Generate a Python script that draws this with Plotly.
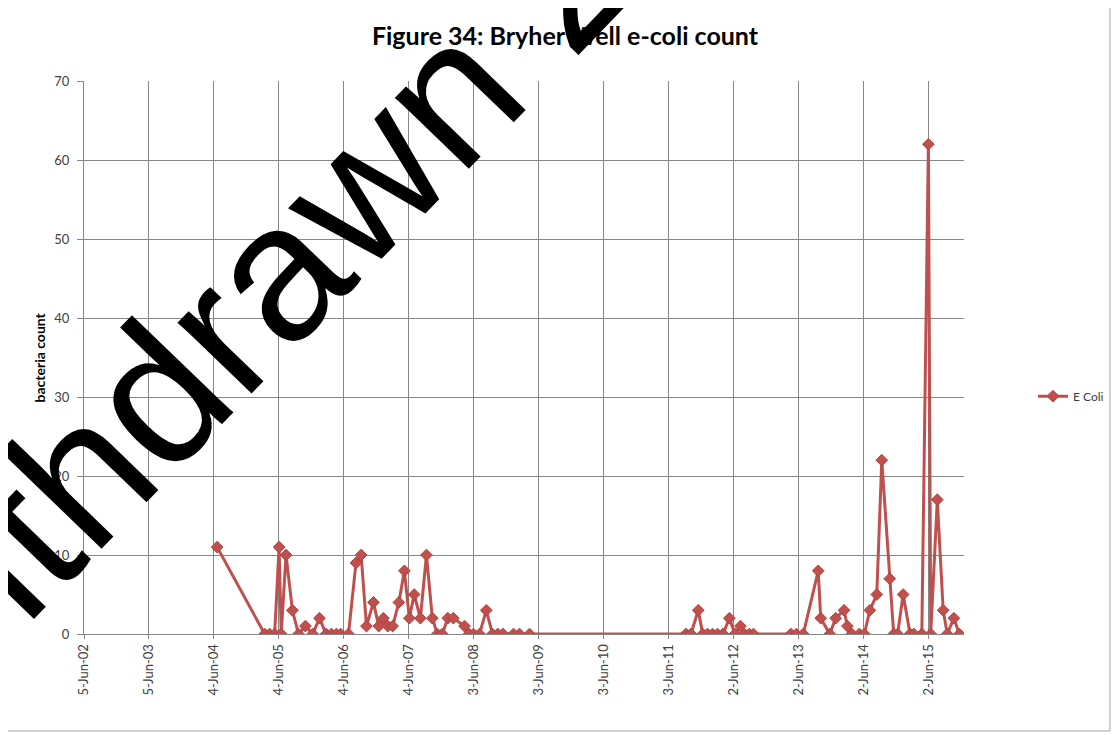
import plotly.graph_objects as go

# ---- data ----
sample_dates = [
    "2004-06-22", "2005-03-16", "2005-04-13", "2005-05-11", "2005-06-05", "2005-06-17",
    "2005-07-14", "2005-08-19", "2005-09-22", "2005-10-31", "2005-12-11", "2006-01-18",
    "2006-02-24", "2006-03-26", "2006-04-23", "2006-05-17", "2006-06-30", "2006-08-11",
    "2006-09-09", "2006-10-09", "2006-11-17", "2006-12-17", "2007-01-12", "2007-02-06",
    "2007-03-05", "2007-04-09", "2007-05-10", "2007-06-07", "2007-07-04", "2007-08-08",
    "2007-09-11", "2007-10-14", "2007-11-11", "2007-12-09", "2008-01-09", "2008-02-09",
    "2008-04-12", "2008-05-07", "2008-06-01", "2008-07-05", "2008-08-12", "2008-09-16",
    "2008-10-16", "2008-11-14", "2009-01-12", "2009-02-15", "2009-04-12",
    "2011-09-08", "2011-10-06", "2011-11-16", "2011-12-11", "2012-01-07", "2012-02-04",
    "2012-03-03", "2012-04-03", "2012-05-09", "2012-06-09", "2012-07-10", "2012-08-01",
    "2012-08-29", "2012-09-21",
    "2013-04-19", "2013-05-20", "2013-06-28", "2013-09-20", "2013-10-04", "2013-11-24",
    "2013-12-27", "2014-02-12", "2014-03-03", "2014-03-28", "2014-05-09", "2014-06-06",
    "2014-07-07", "2014-08-15", "2014-09-12", "2014-10-27", "2014-11-18", "2014-12-10",
    "2015-01-10", "2015-02-18", "2015-03-11", "2015-04-25", "2015-06-01", "2015-06-14",
    "2015-07-21", "2015-08-23", "2015-09-15", "2015-10-22", "2015-11-22",
]
e_coli = [
    11, 0, 0, 0, 11, 0,
    10, 3, 0, 1, 0, 2,
    0, 0, 0, 0, 0, 9,
    10, 1, 4, 1, 2, 1,
    1, 4, 8, 2, 5, 2,
    10, 2, 0, 0, 2, 2,
    1, 0, 0, 0, 3, 0,
    0, 0, 0, 0, 0,
    0, 0, 3, 0, 0, 0,
    0, 0, 2, 0, 1, 0,
    0, 0,
    0, 0, 0, 8, 2, 0,
    2, 3, 1, 0, 0, 0,
    3, 5, 22, 7, 0, 0,
    5, 0, 0, 0, 62, 0,
    17, 3, 0, 2, 0,
]

tick_dates = [
    "2002-06-05", "2003-06-05", "2004-06-04", "2005-06-04", "2006-06-04", "2007-06-04",
    "2008-06-03", "2009-06-03", "2010-06-03", "2011-06-03", "2012-06-02", "2013-06-02",
    "2014-06-02", "2015-06-02",
]
tick_labels = [
    "5-Jun-02", "5-Jun-03", "4-Jun-04", "4-Jun-05", "4-Jun-06", "4-Jun-07",
    "3-Jun-08", "3-Jun-09", "3-Jun-10", "3-Jun-11", "2-Jun-12", "2-Jun-13",
    "2-Jun-14", "2-Jun-15",
]
y_ticks = [0, 10, 20, 30, 40, 50, 60, 70]

title_text = "Figure 34: Bryher Well e-coli count"
series_name = "E Coli"
y_title = "bacteria count"
watermark = "Withdrawn 2"

RED = "#C0504D"
GRID = "#868686"
FONT = "Lato, Open Sans, sans-serif"
TICKFONT = dict(family=FONT, size=13, color="#404040")

W, H = 1112, 727
L, R, T, B = 76, 156, 73, 101
PW, PH = W - L - R, H - T - B

fig = go.Figure()
fig.add_trace(go.Scatter(
    x=sample_dates, y=e_coli, name=series_name, mode="lines+markers",
    line=dict(color=RED, width=3),
    marker=dict(symbol="diamond", size=9, color=RED, line=dict(color="#B0413E", width=1)),
))

fig.update_layout(
    width=W, height=H,
    margin=dict(l=L, r=R, t=T, b=B, autoexpand=False),
    paper_bgcolor="white", plot_bgcolor="white",
    showlegend=True,
    legend=dict(x=(1025 - L) / PW, y=0.43, xanchor="left", yanchor="middle",
                font=dict(family=FONT, size=12, color="#404040"),
                bgcolor="rgba(0,0,0,0)", itemwidth=30),
    title=dict(text="<b>" + title_text + "</b>", x=557 / W, xref="container", xanchor="center",
               y=1 - 28 / H, yref="container", yanchor="middle",
               font=dict(family=FONT, size=25, color="#000000")),
)

fig.update_xaxes(
    type="date", range=["2002-06-05", "2015-12-18"],
    tickmode="array", tickvals=tick_dates, ticktext=tick_labels, tickangle=-90,
    showgrid=True, gridcolor=GRID, gridwidth=1,
    showline=True, linecolor=GRID, linewidth=1,
    ticks="outside", ticklen=4, tickcolor=GRID,
    tickfont=TICKFONT, zeroline=False, ticklabelstandoff=0,
)
fig.update_yaxes(
    range=[0, 70], tickmode="array", tickvals=y_ticks,
    showgrid=True, gridcolor=GRID, gridwidth=1,
    showline=True, linecolor=GRID, linewidth=1,
    ticks="outside", ticklen=6, tickcolor=GRID,
    tickfont=TICKFONT, zeroline=False, ticklabelstandoff=5,
)

fig.add_annotation(
    text="<b>" + y_title + "</b>", xref="paper", yref="paper",
    x=(31 - L) / PW, y=0.5, textangle=-90, showarrow=False,
    xanchor="center", yanchor="middle",
    font=dict(family=FONT, size=14, color="#000000"),
)

# chart border
fig.add_shape(type="rect", xref="paper", yref="paper",
              x0=(-2 - L) / PW, x1=(1102 - L) / PW,
              y0=(PH + T - 723) / PH, y1=(PH + T + 2) / PH,
              line=dict(color="#A6A6A6", width=1), fillcolor="rgba(0,0,0,0)", layer="below")

# watermark
fig.add_annotation(
    text=watermark, xref="paper", yref="paper",
    x=(215.7 - L) / PW, y=(T + PH - 317.9) / PH, textangle=-46, showarrow=False,
    xanchor="center", yanchor="middle",
    font=dict(family="Liberation Sans, Arial, sans-serif", size=194, color="#000000"),
)

fig.write_html("out.html")
